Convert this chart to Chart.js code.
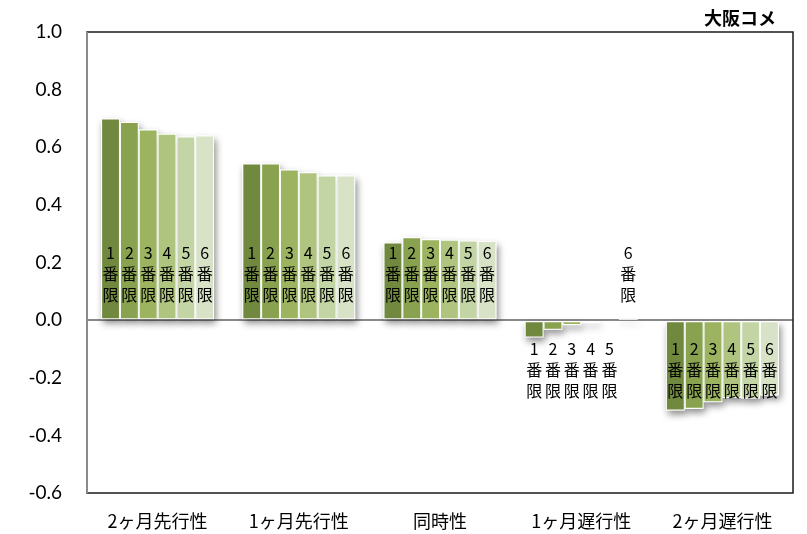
<!DOCTYPE html>
<html>
<head>
<meta charset="utf-8">
<script src="https://cdn.jsdelivr.net/npm/chart.js@4.4.1/dist/chart.umd.min.js"></script>
<style>
  body { margin: 0; background: #fff; }
  canvas { display: block; }
</style>
</head>
<body>
<canvas id="chart" width="807" height="534"></canvas>
<script>
// 大阪コメ: 番限別の先行・遅行性
const title = '大阪コメ';
const categories = ['2ヶ月先行性', '1ヶ月先行性', '同時性', '1ヶ月遅行性', '2ヶ月遅行性'];
const contracts = ['1番限', '2番限', '3番限', '4番限', '5番限', '6番限'];

const gen1 = [0.700, 0.544, 0.269, -0.060, -0.314];
const gen2 = [0.688, 0.544, 0.288, -0.033, -0.308];
const gen3 = [0.662, 0.523, 0.281, -0.017, -0.285];
const gen4 = [0.647, 0.513, 0.279, -0.009, -0.270];
const gen5 = [0.637, 0.502, 0.276, -0.003, -0.272];
const gen6 = [0.641, 0.502, 0.275, 0.001, -0.262];

const yTicks = { min: -0.6, max: 1.0, step: 0.2 };

const colors = ['#71893f', '#88a24f', '#9cb45f', '#afc57f', '#c4d5a5', '#d7e2c6'];
const series = [gen1, gen2, gen3, gen4, gen5, gen6];

const datasets = series.map((values, i) => ({
    label: contracts[i],
    data: values,
    backgroundColor: colors[i],
    borderColor: '#ffffff',
    borderWidth: 1,
    borderSkipped: false
}));

// 影、番限ラベル、枠線
const decor = {
    id: 'decor',
    beforeDatasetsDraw(chart) {
        const ctx = chart.ctx;
        ctx.save();
        ctx.shadowColor = 'rgba(0,0,0,0.45)';
        ctx.shadowBlur = 7;
        ctx.shadowOffsetX = 2;
        ctx.shadowOffsetY = 4;
        ctx.fillStyle = '#ffffff';
        chart.data.datasets.forEach((ds, i) => {
            chart.getDatasetMeta(i).data.forEach(bar => {
                const p = bar.getProps(['x', 'y', 'base', 'width'], true);
                const top = Math.min(p.y, p.base);
                const h = Math.abs(p.base - p.y);
                ctx.fillRect(p.x - p.width / 2, top, p.width, h);
            });
        });
        ctx.restore();
    },
    afterDatasetsDraw(chart) {
        const ctx = chart.ctx;
        const zero = chart.scales.y.getPixelForValue(0);
        ctx.save();
        ctx.font = '16px "Noto Sans CJK JP"';
        ctx.fillStyle = '#000';
        ctx.textAlign = 'center';
        ctx.textBaseline = 'middle';
        chart.data.datasets.forEach((ds, i) => {
            chart.getDatasetMeta(i).data.forEach((bar, j) => {
                const lines = [String(i + 1), '番', '限'];
                const offs = ds.data[j] >= 0 ? [-67, -46, -25] : [29, 50, 71];
                lines.forEach((t, k) => ctx.fillText(t, bar.x, zero + offs[k]));
            });
        });
        ctx.restore();
    },
    afterDraw(chart) {
        const ctx = chart.ctx;
        const a = chart.chartArea;
        ctx.save();
        ctx.strokeStyle = '#1a1a1a';
        ctx.lineWidth = 1.5;
        ctx.strokeRect(a.left, a.top, a.right - a.left, a.bottom - a.top);
        ctx.strokeStyle = '#8a8a8a';
        ctx.lineWidth = 2;
        ctx.beginPath();
        ctx.moveTo(a.left, a.top);
        ctx.lineTo(a.left, a.bottom);
        ctx.stroke();
        ctx.font = 'bold 18px "Noto Sans CJK JP"';
        ctx.fillStyle = '#000';
        ctx.textAlign = 'right';
        ctx.textBaseline = 'middle';
        ctx.fillText(title, 776, 18);
        ctx.restore();
    }
};

new Chart(document.getElementById('chart'), {
    type: 'bar',
    data: { labels: categories, datasets },
    options: {
        responsive: false,
        animation: false,
        devicePixelRatio: 1,
        layout: { padding: { top: 32, right: 14, left: 0, bottom: 0 } },
        datasets: { bar: { categoryPercentage: 0.8, barPercentage: 1.0 } },
        plugins: {
            legend: { display: false },
            tooltip: { enabled: false }
        },
        scales: {
            x: {
                grid: { display: false },
                border: { display: false },
                ticks: {
                    color: '#000',
                    padding: 9,
                    font: { family: '"Noto Sans CJK JP"', size: 18 }
                },
                afterFit(scale) { scale.height = 41; }
            },
            y: {
                min: yTicks.min,
                max: yTicks.max,
                grid: {
                    drawTicks: false,
                    lineWidth: 2,
                    color: c => (Math.abs(c.tick.value) < 1e-9 ? '#8a8a8a' : 'transparent')
                },
                border: { display: false },
                ticks: {
                    stepSize: yTicks.step,
                    color: '#000',
                    padding: 25,
                    font: { family: 'Lato', size: 19 },
                    callback: v => v.toFixed(1)
                },
                afterFit(scale) {
                    scale.width = 87;
                    scale.paddingTop = 0;
                    scale.paddingBottom = 0;
                }
            }
        }
    },
    plugins: [decor]
});
</script>
</body>
</html>
